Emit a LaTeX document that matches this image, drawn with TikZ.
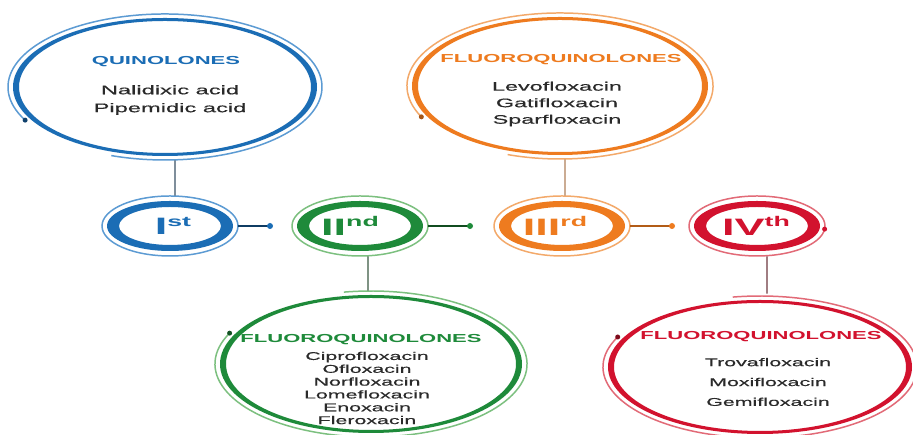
\documentclass[tikz,border=0pt]{standalone}
\usepackage{fontspec}
\usetikzlibrary{shapes.geometric}
\setmainfont{Liberation Sans}
\newfontfamily\stf[FakeStretch=1.9]{Liberation Sans}
\newfontfamily\stfl[FakeStretch=1.9,FakeBold=0.5]{Liberation Sans}
\definecolor{cB}{HTML}{1B6DB5}
\definecolor{cBl}{HTML}{5C9BD3}
\definecolor{cG}{HTML}{1E8A3A}
\definecolor{cGl}{HTML}{7CC07F}
\definecolor{cO}{HTML}{EE7B1F}
\definecolor{cOl}{HTML}{F3A96A}
\definecolor{cR}{HTML}{D2122E}
\definecolor{cRl}{HTML}{E26A77}
\definecolor{txt}{HTML}{2A2A2A}
\newcommand\sups[1]{\raisebox{5pt}{\fontsize{8}{8}\selectfont #1}}
\begin{document}
\begin{tikzpicture}[x=0.02cm,y=0.02cm,
  ring/.style={shape=ellipse, draw=none, inner sep=0pt},
  bigring/.style={ring, minimum width=314*0.02cm, minimum height=146*0.02cm},
  smallring/.style={ring, minimum width=136*0.02cm, minimum height=60*0.02cm},
  thinline/.style={line width=0.85pt},
  con/.style={line width=0.7pt},
  hd/.style={font=\stf\bfseries\fontsize{6.6}{8}\selectfont, inner sep=0pt},
  lst/.style={font=\stfl\fontsize{7}{10}\selectfont, text=txt, align=center, inner sep=0pt},
  num/.style={font=\stf\bfseries\fontsize{13.5}{14}\selectfont, inner sep=0pt}]
\useasboundingbox (0,0) rectangle (913,435);
\fill[white] (0,0) rectangle (913,435);

% ---------- big rings ----------
\node[bigring] (q1) at (165,348) {};
\node[bigring] (q3) at (560,349) {};
\node[bigring] (q2) at (371,71) {};
\node[bigring] (q4) at (760,68) {};

\fill[cB, even odd rule] (q1.center) ellipse [x radius=152, y radius=69] (q1.center) ellipse [x radius=146, y radius=66];
\draw[cBl, thinline] (q1.center) ++(207:157 and 73) coordinate (q1s) arc [start angle=207, end angle=-110, x radius=157, y radius=73];
\fill[cB!60!black] (q1s) circle [radius=2.5];

\fill[cO, even odd rule] (q3.center) ellipse [x radius=148, y radius=69] (q3.center) ellipse [x radius=142, y radius=66];
\draw[cOl, thinline] (q3.center) ++(205:153 and 73) coordinate (q3s) arc [start angle=205, end angle=-110, x radius=153, y radius=73];
\fill[cO!70!black] (q3s) circle [radius=2.5];

\fill[cG, even odd rule] (q2.center) ellipse [x radius=151, y radius=69] (q2.center) ellipse [x radius=145, y radius=66];
\draw[cGl, thinline] (q2.center) ++(155:156 and 73) coordinate (q2s) arc [start angle=155, end angle=460, x radius=156, y radius=73];
\fill[cG!60!black] (q2s) circle [radius=2.5];

\fill[cR, even odd rule] (q4.center) ellipse [x radius=152, y radius=67] (q4.center) ellipse [x radius=146, y radius=64];
\draw[cRl, thinline] (q4.center) ++(155:157 and 71) coordinate (q4s) arc [start angle=155, end angle=460, x radius=157, y radius=71];
\fill[cR!60!black] (q4s) circle [radius=2.5];

% ---------- small rings ----------
\node[smallring] (g1) at (170,209) {};
\node[smallring] (g2) at (360,209) {};
\node[smallring] (g3) at (562,209) {};
\node[smallring] (g4) at (757,209) {};

\foreach \n/\c in {g1/cB, g2/cG, g3/cO, g4/cR}{
  \fill[\c, even odd rule] (\n.center) ellipse [x radius=63, y radius=25] (\n.center) ellipse [x radius=51, y radius=19];
  \draw[\c l, thinline] (\n.center) ellipse [x radius=68, y radius=30];
}
\path (g4.center) ++(-6:68 and 30) coordinate (g4e);
\fill[cR] (g4e) circle [radius=2.5];

% ---------- texts ----------
\node[hd, text=cB] (t1) at (166,373) {QUINOLONES};
\node[lst, font=\stfl\fontsize{7.1}{10.2}\selectfont] (l1) at (170,335) {Nalidixic acid\\Pipemidic acid};

\node[hd, text=cO] (t3) at (561,375) {FLUOROQUINOLONES};
\node[lst, font=\stfl\fontsize{7}{9.4}\selectfont] (l3) at (557,331) {Levofloxacin\\Gatifloxacin\\Sparfloxacin};

\node[hd, text=cG] (t2) at (361,95) {FLUOROQUINOLONES};
\node[lst, font=\stfl\fontsize{6.4}{7.3}\selectfont] (l2) at (367,47) {Ciprofloxacin\\Ofloxacin\\Norfloxacin\\Lomefloxacin\\Enoxacin\\Fleroxacin};

\node[hd, text=cR] (t4) at (761,98) {FLUOROQUINOLONES};
\node[lst, font=\stfl\fontsize{6.4}{11.3}\selectfont] (l4) at (768,53) {Trovafloxacin\\Moxifloxacin\\Gemifloxacin};

\node[num, text=cB] (n1) at (173,209) {I\sups{st}};
\node[num, text=cG] (n2) at (350,209) {II\sups{nd}};
\node[num, text=cO] (n3) at (555,209) {III\sups{rd}};
\node[num, text=cR] (n4) at (756,209) {IV\sups{th}};

% ---------- connectors ----------
\coordinate (d1) at (270,209);
\coordinate (d2) at (470,209);
\coordinate (d3) at (672,209);
\draw[con, cB!55!black] (g1.east) -- (d1);
\fill[cB] (d1) circle [radius=3];
\draw[con, cG!55!black] (g2.east) -- (d2);
\fill[cG] (d2) circle [radius=3];
\draw[con, cO!75!black] (g3.east) -- (d3);
\fill[cO] (d3) circle [radius=3];

\draw[con, cB!35!black!80] ([xshift=0.1cm]g1.north) -- ([xshift=0.2cm]q1.south);
\draw[con, cO!60!black!70] ([xshift=0.06cm]g3.north) -- ([xshift=0.1cm]q3.south);
\draw[con, cG!35!black!80] ([xshift=0.16cm]g2.south) -- ([xshift=-0.06cm]q2.north);
\draw[con, cR!35!black!80] ([xshift=0.2cm]g4.south) -- ([xshift=0.14cm]q4.north);
\end{tikzpicture}
\end{document}
